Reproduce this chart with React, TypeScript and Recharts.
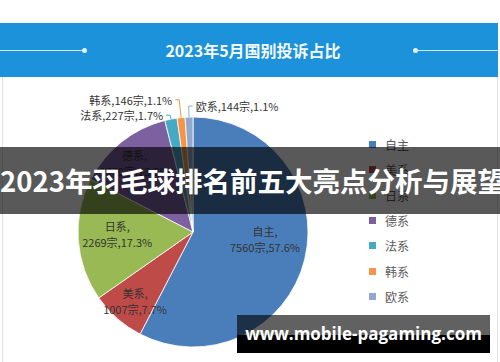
import React from 'react';
import { PieChart, Pie, Cell, Legend } from 'recharts';

// 2023年5月国别投诉占比
const categories = ['自主', '美系', '日系', '德系', '法系', '韩系', '欧系'];
const counts = [7560, 1007, 2269, 1770, 227, 146, 144];
const shares = [57.6, 7.7, 17.3, 13.5, 1.7, 1.1, 1.1];

const palette = ['#4a7ebb', '#be4b48', '#98b954', '#7d60a0', '#46aac5', '#f69545', '#92a9cf'];

const pieData = categories.map((name, i) => ({ name, value: counts[i], share: shares[i] }));

const FONT = '"Noto Sans CJK SC", "Noto Sans", sans-serif';
const RADIAN = Math.PI / 180;

// label placement: inside labels [radius factor, angle shift], outside labels [elbow offset, side]
const insideLabels: Record<string, [number, number]> = {
  自主: [0.63, 7.4],
  美系: [0.79, 1.6],
  日系: [0.66, -1.5],
  德系: [0.78, 2.2],
};
const outsideLabels: Record<string, [number, number]> = {
  法系: [4, -1],
  韩系: [18, -1],
  欧系: [11, 1],
};

const renderLabel = (props: any) => {
  const { cx, cy, midAngle, outerRadius, index } = props;
  const name = categories[index];
  const text2 = `${counts[index]}宗,${shares[index]}%`;
  if (insideLabels[name]) {
    const [f, da] = insideLabels[name];
    const a = (midAngle + da) * RADIAN;
    const x = cx + outerRadius * f * Math.cos(a);
    const y = cy - outerRadius * f * Math.sin(a);
    return (
      <text x={x} y={y} fill="#333" fontSize={11} fontFamily={FONT} textAnchor="middle">
        <tspan x={x} dy={-4}>{name},</tspan>
        <tspan x={x} dy={16}>{text2}</tspan>
      </text>
    );
  }
  const [off, side] = outsideLabels[name];
  const a = midAngle * RADIAN;
  const sx = cx + outerRadius * Math.cos(a);
  const sy = cy - outerRadius * Math.sin(a);
  const ex = cx + (outerRadius + off) * Math.cos(a);
  const ey = cy - (outerRadius + off) * Math.sin(a);
  const hx = ex + side * 4;
  return (
    <g>
      <polyline points={`${sx},${sy} ${ex},${ey} ${hx},${ey}`} fill="none" stroke={palette[index]} strokeWidth={1} />
      <text x={hx + side * 3} y={ey} fill="#333" fontSize={11} fontFamily={FONT}
        textAnchor={side > 0 ? 'start' : 'end'} dominantBaseline="central">
        {`${name},${text2}`}
      </text>
    </g>
  );
};

const renderLegend = () => (
  <div style={{ fontFamily: FONT, fontSize: 12, color: '#595959' }}>
    {categories.map((name, i) => (
      <div key={name} style={{ height: 25.3, display: 'flex', alignItems: 'center' }}>
        <span style={{ width: 7, height: 7, background: palette[i], display: 'inline-block', marginRight: 9 }} />
        <span>{name}</span>
      </div>
    ))}
  </div>
);

export default function App() {
  return (
    <div style={{ position: 'absolute', left: 0, top: 0, width: 500, height: 362, background: '#fff', overflow: 'hidden', fontFamily: FONT }}>
      {/* title banner */}
      <div style={{ position: 'absolute', left: 0, top: 23, width: 498, height: 54, background: '#1b92da' }} />
      <div style={{ position: 'absolute', left: 0, top: 50, width: 84, height: 1, background: '#cfe9f8' }} />
      <div style={{ position: 'absolute', left: 82, top: 48, width: 5, height: 5, borderRadius: 3, background: '#e6f4fc' }} />
      <div style={{ position: 'absolute', left: 413, top: 48, width: 5, height: 5, borderRadius: 3, background: '#e6f4fc' }} />
      <div style={{ position: 'absolute', left: 416, top: 50, width: 82, height: 1, background: '#cfe9f8' }} />
      <div style={{ position: 'absolute', left: 0, top: 23, width: 506, height: 54, lineHeight: '54px', textAlign: 'center', color: '#f4f8fb', fontWeight: 700, fontSize: 16 }}>
        2023年5月国别投诉占比
      </div>
      <div style={{ position: 'absolute', left: 2, top: 77, width: 1, height: 285, background: '#e2e2e2' }} />
      <div style={{ position: 'absolute', left: 497, top: 77, width: 1, height: 285, background: '#e2e2e2' }} />

      <div style={{ position: 'absolute', left: 0, top: 0 }}>
        <PieChart width={500} height={362} margin={{ top: 0, right: 0, bottom: 0, left: 0 }}>
          <Pie
            data={pieData}
            dataKey="value"
            nameKey="name"
            cx={193}
            cy={232}
            outerRadius={115}
            startAngle={90}
            endAngle={-270}
            stroke="#ffffff"
            strokeWidth={0.8}
            label={renderLabel}
            labelLine={false}
            isAnimationActive={false}
          >
            {pieData.map((d, i) => (
              <Cell key={d.name} fill={palette[i]} />
            ))}
          </Pie>
          <Legend content={renderLegend} layout="vertical" wrapperStyle={{ left: 369, top: 132, width: 100 }} />
        </PieChart>
      </div>

      {/* overlay banner */}
      <div style={{ position: 'absolute', left: 0, top: 147, width: 500, height: 67, background: 'rgba(0,0,0,0.65)' }} />
      <div style={{ position: 'absolute', left: 0, top: 147, width: 500, height: 67, lineHeight: '67px', textAlign: 'center', color: '#fff', fontWeight: 700, fontSize: 27.5, whiteSpace: 'nowrap' }}>
        2023年羽毛球排名前五大亮点分析与展望
      </div>

      {/* watermark */}
      <div style={{ position: 'absolute', left: 237, top: 315, width: 253, height: 20, background: 'rgba(0,0,0,0.62)' }} />
      <div style={{ position: 'absolute', left: 237, top: 335, width: 253, height: 18, background: '#000' }} />
      <div style={{ position: 'absolute', left: 237, top: 315, width: 253, height: 38, lineHeight: '38px', textAlign: 'center', color: '#fff', fontWeight: 700, fontSize: 17, fontFamily: '"Open Sans", sans-serif', whiteSpace: 'nowrap' }}>
        www.mobile-pagaming.com
      </div>
    </div>
  );
}
